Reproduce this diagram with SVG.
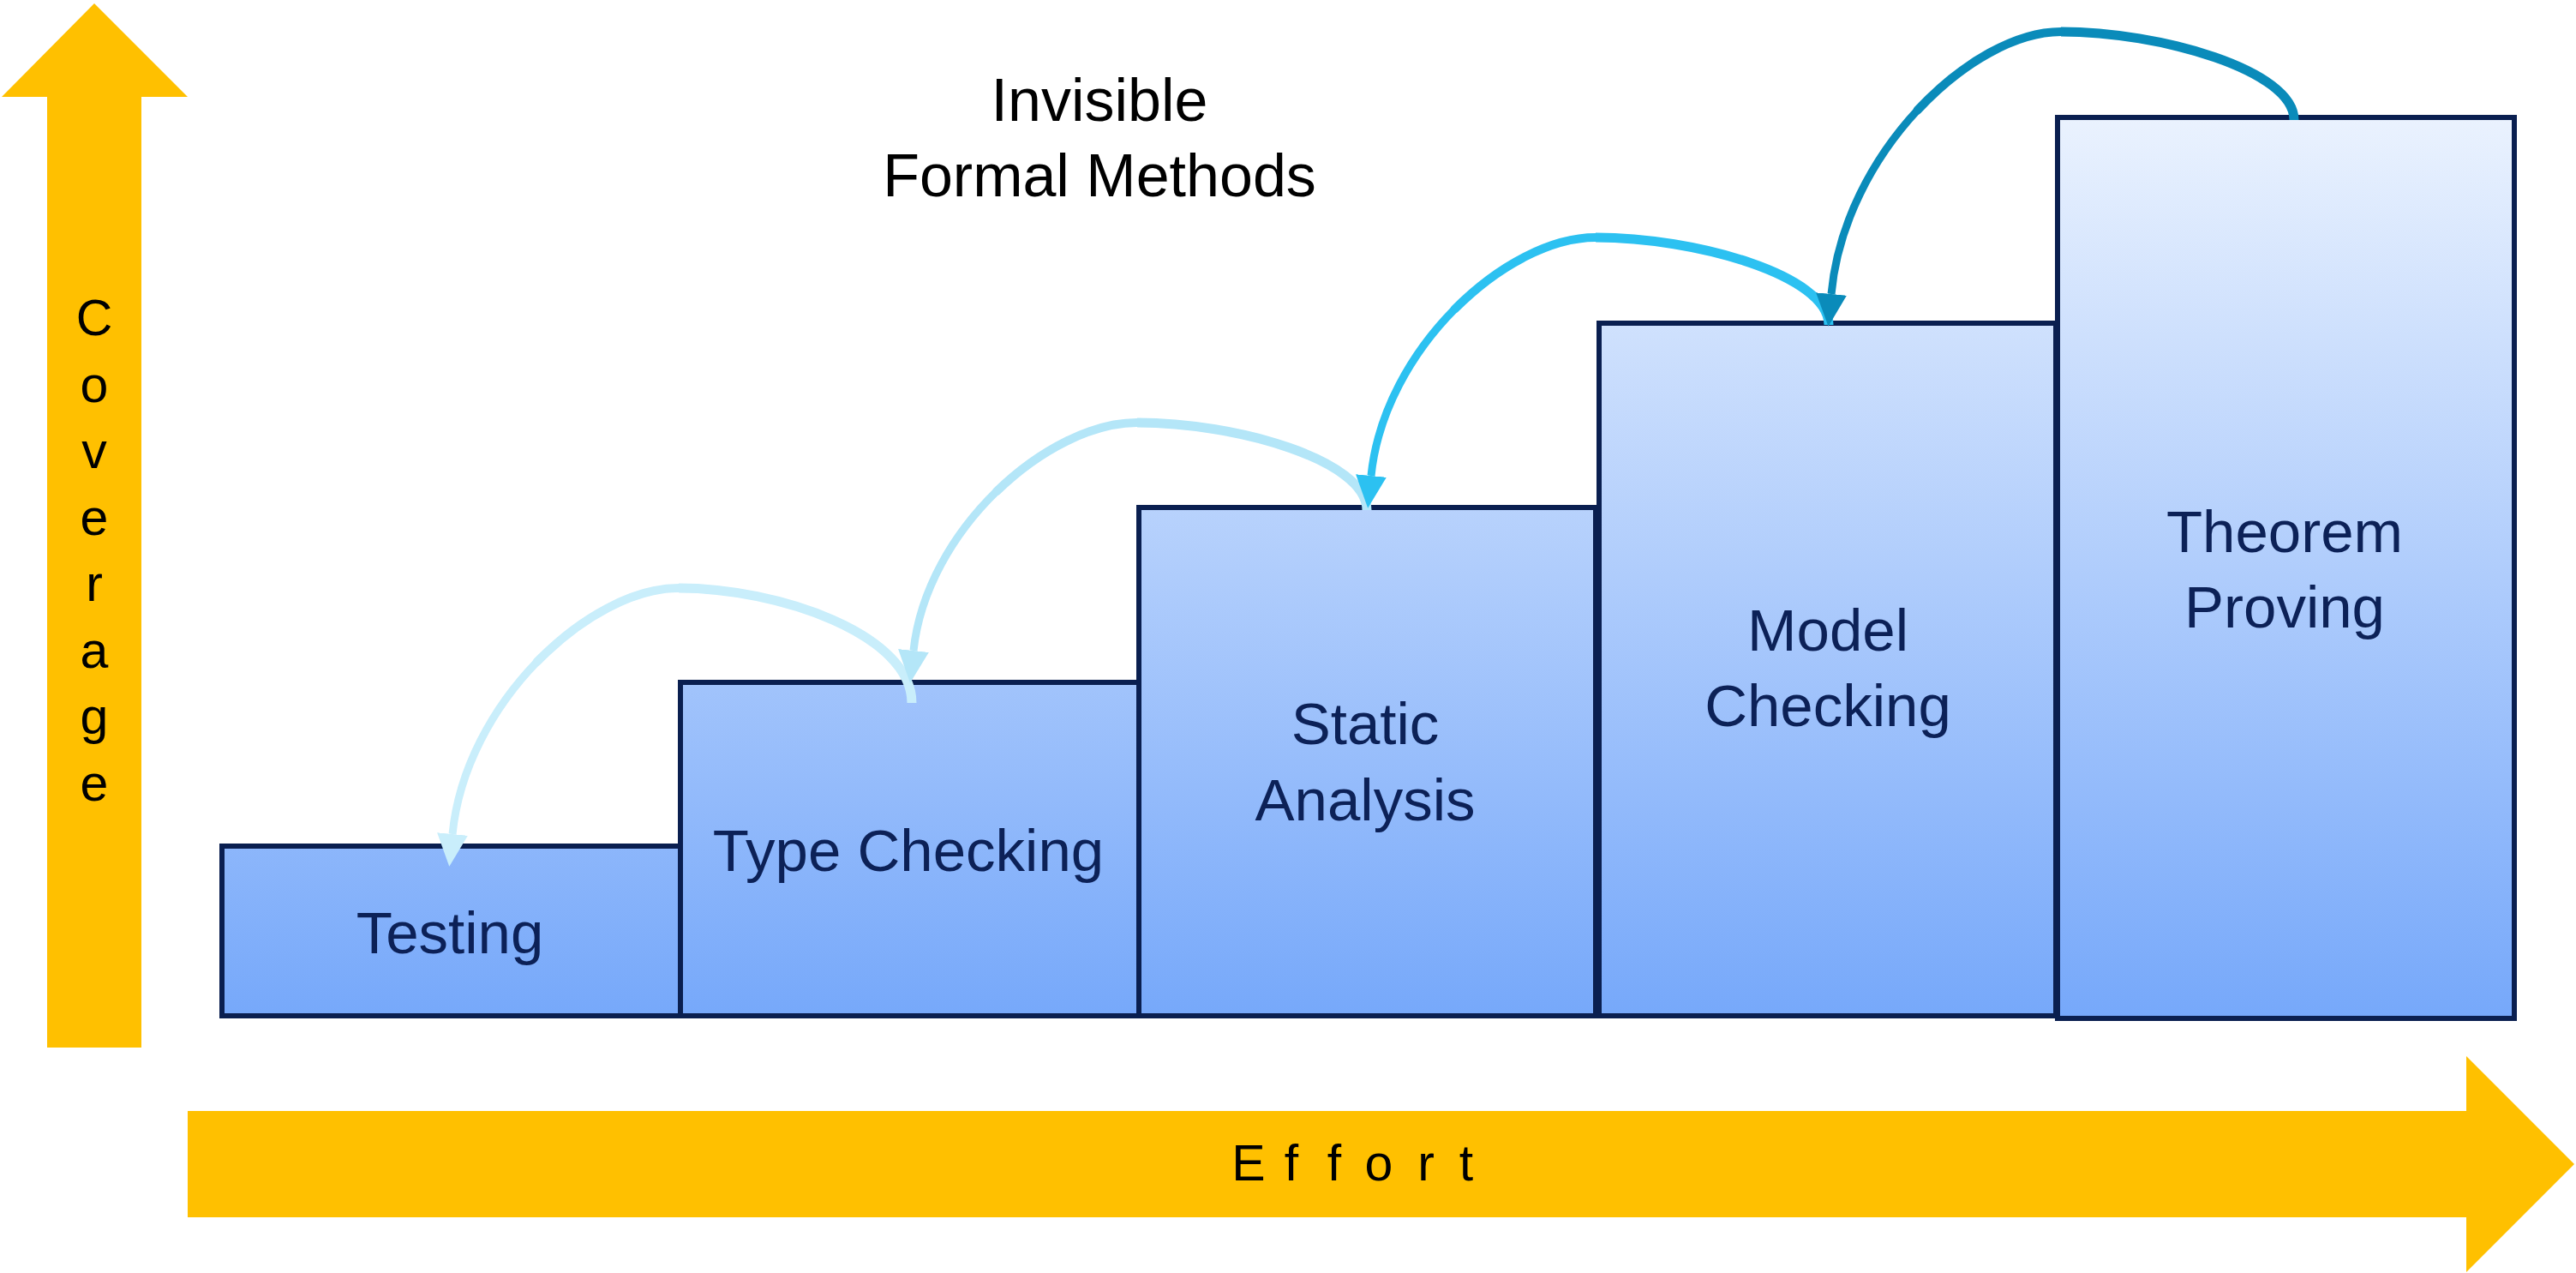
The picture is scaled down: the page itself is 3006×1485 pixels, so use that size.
<svg xmlns="http://www.w3.org/2000/svg" width="3006" height="1485" viewBox="0 0 3006 1485">
<style>
.box{stroke:#0A1F50;stroke-width:6;fill:url(#boxg)}
.lbl{font-family:"Liberation Sans",Arial,sans-serif;font-size:69px;fill:#0C2157;text-anchor:middle}
.title{font-family:"Liberation Sans",Arial,sans-serif;font-size:70px;fill:#000;text-anchor:middle}
.axis{font-family:"Liberation Sans",Arial,sans-serif;font-size:59px;fill:#000;text-anchor:middle}
.conn{fill:none;stroke-linecap:butt}
.w1{stroke-width:11}
.w2{stroke-width:10;stroke-linecap:round}
.w3{stroke-width:9}
.c1{stroke:#C9EEFB}
.c2{stroke:#B4E6F8}
.c3{stroke:#2CC1F1}
.c4{stroke:#0A8BBA}
</style>
<defs>
<linearGradient id="boxg" gradientUnits="userSpaceOnUse" x1="0" y1="137" x2="0" y2="1188">
<stop offset="0" stop-color="#EAF2FE"/>
<stop offset="1" stop-color="#76A8FA"/>
</linearGradient>
<marker id="h1" markerUnits="userSpaceOnUse" markerWidth="40" markerHeight="40" refX="0" refY="18" orient="auto" viewBox="0 0 40 36"><path d="M0,0 L38,18 L0,36 z" fill="#C9EEFB"/></marker>
<marker id="h2" markerUnits="userSpaceOnUse" markerWidth="40" markerHeight="40" refX="0" refY="18" orient="auto" viewBox="0 0 40 36"><path d="M0,0 L38,18 L0,36 z" fill="#B4E6F8"/></marker>
<marker id="h3" markerUnits="userSpaceOnUse" markerWidth="40" markerHeight="40" refX="0" refY="18" orient="auto" viewBox="0 0 40 36"><path d="M0,0 L38,18 L0,36 z" fill="#2CC1F1"/></marker>
<marker id="h4" markerUnits="userSpaceOnUse" markerWidth="40" markerHeight="40" refX="0" refY="18" orient="auto" viewBox="0 0 40 36"><path d="M0,0 L38,18 L0,36 z" fill="#0A8BBA"/></marker>
</defs>
<rect width="3006" height="1485" fill="#FFFFFF"/>
<g id="axis-coverage">
<polygon points="110,4 219,113 165,113 165,1222 55,1222 55,113 2,113" fill="#FFC000"/>
<text class="axis" x="110" y="391">C</text>
<text class="axis" x="110" y="469">o</text>
<text class="axis" x="110" y="546">v</text>
<text class="axis" x="110" y="624">e</text>
<text class="axis" x="110" y="701">r</text>
<text class="axis" x="110" y="779">a</text>
<text class="axis" x="110" y="856">g</text>
<text class="axis" x="110" y="934">e</text>
</g>
<g id="axis-effort">
<polygon points="219,1296 2878,1296 2878,1232 3004,1358 2878,1484 2878,1420 219,1420" fill="#FFC000"/>
<text class="axis" x="1457 1507 1557 1609 1664 1711" y="1377">Effort</text>
</g>
<g id="title">
<text class="title" x="1283" y="141">Invisible</text>
<text class="title" x="1283" y="229">Formal Methods</text>
</g>
<g id="node-testing">
<rect class="box" x="259" y="987" width="535" height="198"/>
<text class="lbl" x="525" y="1112">Testing</text>
</g>
<g id="node-type-checking">
<rect class="box" x="794" y="796" width="535" height="389"/>
<text class="lbl" x="1060" y="1016">Type Checking</text>
</g>
<g id="node-static-analysis">
<rect class="box" x="1329" y="592" width="533" height="593"/>
<text class="lbl" x="1593" y="868">Static</text>
<text class="lbl" x="1593" y="957">Analysis</text>
</g>
<g id="node-model-checking">
<rect class="box" x="1866" y="377" width="533" height="808"/>
<text class="lbl" x="2133" y="759">Model</text>
<text class="lbl" x="2133" y="847">Checking</text>
</g>
<g id="node-theorem-proving">
<rect class="box" x="2401" y="137" width="533" height="1051"/>
<text class="lbl" x="2666" y="644">Theorem</text>
<text class="lbl" x="2666" y="732">Proving</text>
</g>
<g id="connectors">
<g id="conn-type-to-testing">
<path class="conn c1 w1" d="M1064,820 C1064,740 908,686 792,686"/>
<path class="conn c1 w3" marker-end="url(#h1)" d="M626.6,772.1 C575.5,824.75 535.5,896.5 528,973"/>
<path class="conn c1 w2" d="M792,686 C740,686 677.75,719.5 626.6,772.1"/>
</g>
<g id="conn-static-to-type">
<path class="conn c2 w1" d="M1595,595 C1595,537 1443,493 1327,493"/>
<path class="conn c2 w3" marker-end="url(#h2)" d="M1163.1,573.1 C1112.75,622 1073.5,688.5 1066,759"/>
<path class="conn c2 w2" d="M1327,493 C1275,493 1213.5,524.25 1163.1,573.1"/>
</g>
<g id="conn-model-to-static">
<path class="conn c3 w1" d="M2134,379 C2134,321 1978,277 1862,277"/>
<path class="conn c3 w3" marker-end="url(#h3)" d="M1697.6,360.5 C1647,411.5 1607.5,481 1600,555"/>
<path class="conn c3 w2" d="M1862,277 C1810,277 1748.25,309.5 1697.6,360.5"/>
</g>
<g id="conn-theorem-to-model">
<path class="conn c4 w1" d="M2677,140 C2677,82 2521,37 2405,37"/>
<path class="conn c4 w3" marker-end="url(#h4)" d="M2237.6,128.5 C2185.5,184.5 2144.5,261 2137,343"/>
<path class="conn c4 w2" d="M2405,37 C2353,37 2289.75,72.5 2237.6,128.5"/>
</g>
</g>
</svg>
